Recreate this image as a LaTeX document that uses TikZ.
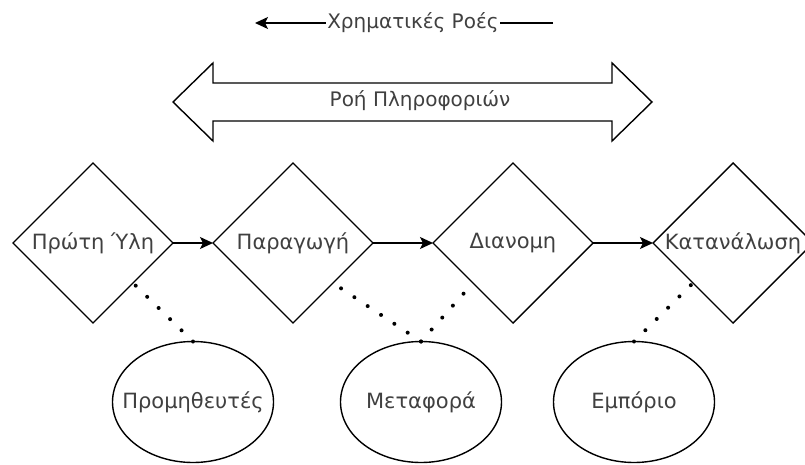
\documentclass[tikz,border=0pt]{standalone}
\usepackage{fontspec}
\setmainfont{DejaVu Sans}
\usetikzlibrary{arrows.meta,shapes.geometric}
\tikzset{
	stage/.style={draw, diamond, line width=1.4pt, inner sep=0pt, outer sep=0pt,
		minimum width=160pt, minimum height=160pt, font=\fontsize{21}{24}\selectfont, text=black!75},
	actor/.style={draw, ellipse, line width=1.4pt, inner sep=0pt, outer sep=0pt,
		minimum width=161pt, minimum height=121pt, font=\fontsize{21}{24}\selectfont, text=black!75},
	flow/.style={line width=1.4pt, -{Stealth[length=13pt, width=12pt, inset=3pt]}},
	link/.style={line width=4pt, line cap=round, dash pattern=on 0pt off 16pt},
	lbl/.style={font=\fontsize{20}{24}\selectfont, text=black!75, inner sep=1pt},
}
\begin{document}
\begin{tikzpicture}[x=1pt, y=-1pt]
	\useasboundingbox (0,0) rectangle (805,465);
	% money flow
	\coordinate (moneyR) at (553,23);
	\coordinate (moneyL) at (255,23);
	\draw[flow] (moneyR) -- node[lbl, fill=white, pos=0.47] (money) {Χρηματικές Ροές} (moneyL);
	% information flow
	\draw[line width=1.4pt, line join=miter] (173,102) -- (213,63) -- (213,83) -- (612,83) -- (612,63)
		-- (652,102) -- (612,141) -- (612,121) -- (213,121) -- (213,141) -- cycle;
	\node[lbl] at (420,101) (info) {Ροή Πληροφοριών};
	% chain
	\node[stage] at (93,243) (raw) {\makebox[0pt]{Πρώτη Ύλη}};
	\node[stage] at (293,243) (prod) {\makebox[0pt]{Παραγωγή}};
	\node[stage] at (513,243) (dist) {\makebox[0pt]{Διανομη}};
	\node[stage] at (733,243) (cons) {\makebox[0pt]{Κατανάλωση}};
	\node[actor] at (193,402) (supp) {\makebox[0pt]{Προμηθευτές}};
	\node[actor] at (421,402) (trans) {\makebox[0pt]{Μεταφορά}};
	\node[actor] at (634,402) (shop) {\makebox[0pt]{Εμπόριο}};
	\draw[flow] (raw.east) -- (prod.west);
	\draw[flow] (prod.east) -- (dist.west);
	\draw[flow] (dist.east) -- (cons.west);
	\draw[link] (supp.north) -- (raw.south east);
	\draw[link] (trans.north) -- (prod.south east);
	\draw[link] (trans.north) -- (dist.south west);
	\draw[link] (shop.north) -- (cons.south west);
\end{tikzpicture}
\end{document}
